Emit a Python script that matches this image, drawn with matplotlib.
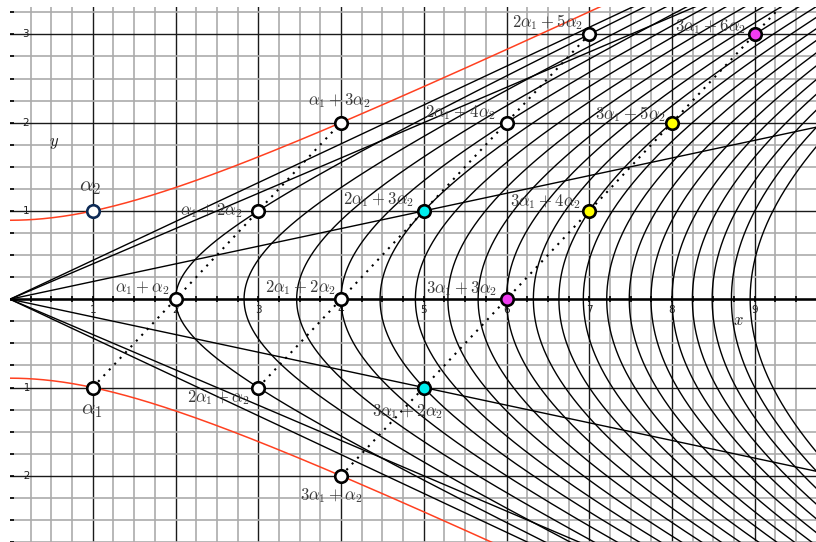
import numpy as np
import matplotlib
matplotlib.use("Agg")
import matplotlib.pyplot as plt

plt.rcParams["mathtext.fontset"] = "cm"

# Simple roots of the rank-2 hyperbolic algebra with Cartan matrix [[2,-3],[-3,2]]
alpha1 = np.array([1.0, -1.0])
alpha2 = np.array([1.0, 1.0])

# Roots n*alpha1 + m*alpha2 marked on the plane
root_n = [1, 0, 1, 1, 1, 2, 2, 2, 2, 2, 3, 3, 3, 3, 3, 3]
root_m = [0, 1, 1, 2, 3, 1, 2, 3, 4, 5, 1, 2, 3, 4, 5, 6]
root_labels = [
    r"$\alpha_1$", r"$\alpha_2$", r"$\alpha_1+\alpha_2$", r"$\alpha_1+2\alpha_2$",
    r"$\alpha_1+3\alpha_2$", r"$2\alpha_1+\alpha_2$", r"$2\alpha_1+2\alpha_2$",
    r"$2\alpha_1+3\alpha_2$", r"$2\alpha_1+4\alpha_2$", r"$2\alpha_1+5\alpha_2$",
    r"$3\alpha_1+\alpha_2$", r"$3\alpha_1+2\alpha_2$", r"$3\alpha_1+3\alpha_2$",
    r"$3\alpha_1+4\alpha_2$", r"$3\alpha_1+5\alpha_2$", r"$3\alpha_1+6\alpha_2$",
]
root_fill = ["white", "white", "white", "white", "white", "white", "white",
             "#00f0f0", "white", "white", "white", "#00f0f0", "#f03cf0",
             "#ffff00", "#ffff00", "#f03cf0"]
root_edge = ["black", "#0d2a55"] + ["black"] * 14
# label offsets (pixels) from the marker
label_dx = [-1, -3, -33, -47, -2, -40, -41, -45, -46, -42, -10, -16, -45, -44, -42, -44]
label_dy = [-22, 24, 11, 0, 22, -10, 12, 11, 10, 12, -20, -24, 11, 9, 9, 8]
label_size = [15, 15] + [12] * 14

# alpha-strings joined by dotted segments: (start n, m) -> (end n, m)
string_start = [(1, 0), (2, 1), (3, 1)]
string_end = [(1, 3), (2, 5), (3, 7)]

# chamber walls and their first Weyl images, as (n, m) directions
wall_n = [2, 3, 7, 3, 7, 18]
wall_m = [3, 2, 3, 7, 18, 7]

# levels of the imaginary-norm hyperbolas x^2 - 5y^2 = 4k
hyper_k = list(range(1, 21))

xt_major = list(range(1, 10))
yt_major = [-2, -1, 1, 2, 3]

fig = plt.figure(figsize=(8.16, 5.42), dpi=100)
ax = fig.add_axes([10 / 816, 0, 806 / 816, 535 / 542])
ax.set_xlim(0, 9.74)
ax.set_ylim(-2.75, 3.31)
for s in ax.spines.values():
    s.set_visible(False)
ax.set_xticks([])
ax.set_yticks([])

# grid
grid_x = np.arange(0.25, 10.01, 0.25)
grid_y = np.arange(-3, 3.51, 0.25)
for gx in grid_x:
    major = abs(gx - round(gx)) < 1e-9
    ax.axvline(gx, color="#1a1a1a" if major else "#ababab",
               lw=1.0 if major else 1.2, zorder=0)
for gy in grid_y:
    major = abs(gy - round(gy)) < 1e-9
    ax.axhline(gy, color="#1a1a1a" if major else "#ababab",
               lw=1.0 if major else 1.2, zorder=0)

# axes with small ticks
ax.axhline(0, color="black", lw=1.8, zorder=1)
ax.plot(grid_x, np.zeros_like(grid_x), ls="none", marker="|", ms=5,
        mew=1.2, color="black", zorder=1)
ax.plot(np.zeros_like(grid_y), grid_y, ls="none", marker="_", ms=6,
        mew=1.2, color="black", zorder=1)
for v in xt_major:
    ax.text(v, -0.12, str(v), ha="center", va="center", fontsize=7.5,
            color="#202020", zorder=2)
for v in yt_major:
    ax.text(0.19, v, str(v), ha="center", va="center", fontsize=7.5,
            color="#202020", zorder=2)
ax.text(0.53, 1.78, r"$y$", fontsize=12, ha="center", va="center", color="#202020")
ax.text(8.8, -0.24, r"$x$", fontsize=12, ha="center", va="center", color="#202020")

# imaginary-norm hyperbolas
t = np.linspace(-3.5, 3.5, 1500)
for k in hyper_k:
    a = 2 * np.sqrt(k)
    ax.plot(a * np.cosh(t), a / np.sqrt(5) * np.sinh(t), color="black",
            lw=1.0, zorder=2)

# real-root curve 5y^2 - x^2 = 4
xr = np.linspace(0, 12, 600)
yr = np.sqrt((4 + xr ** 2) / 5)
ax.plot(xr, yr, color="#ff4020", lw=1.1, zorder=2)
ax.plot(xr, -yr, color="#ff4020", lw=1.1, zorder=2)

# rays from the origin along the wall directions
for n, m in zip(wall_n, wall_m):
    d = n * alpha1 + m * alpha2
    d = d / d[0] * 12
    ax.plot([0, d[0]], [0, d[1]], color="black", lw=1.0, zorder=2)

# dotted alpha_2-strings
for (n0, m0), (n1, m1) in zip(string_start, string_end):
    p0 = n0 * alpha1 + m0 * alpha2
    p1 = n1 * alpha1 + m1 * alpha2
    ax.plot([p0[0], p1[0]], [p0[1], p1[1]], color="black", lw=1.5,
            ls=(0, (1, 2.8)), zorder=3)

# roots
for n, m, lab, fc, ec, dx, dy, fs in zip(root_n, root_m, root_labels, root_fill,
                                         root_edge, label_dx, label_dy, label_size):
    p = n * alpha1 + m * alpha2
    ax.plot(p[0], p[1], marker="o", ms=9, mfc=fc, mec=ec, mew=1.9, zorder=5)
    ax.annotate(lab, xy=(p[0], p[1]), xytext=(dx, dy), textcoords="offset pixels",
                ha="center", va="center", fontsize=fs, color="#3a3a3a", zorder=6)

fig.savefig("out.png", dpi=100)
